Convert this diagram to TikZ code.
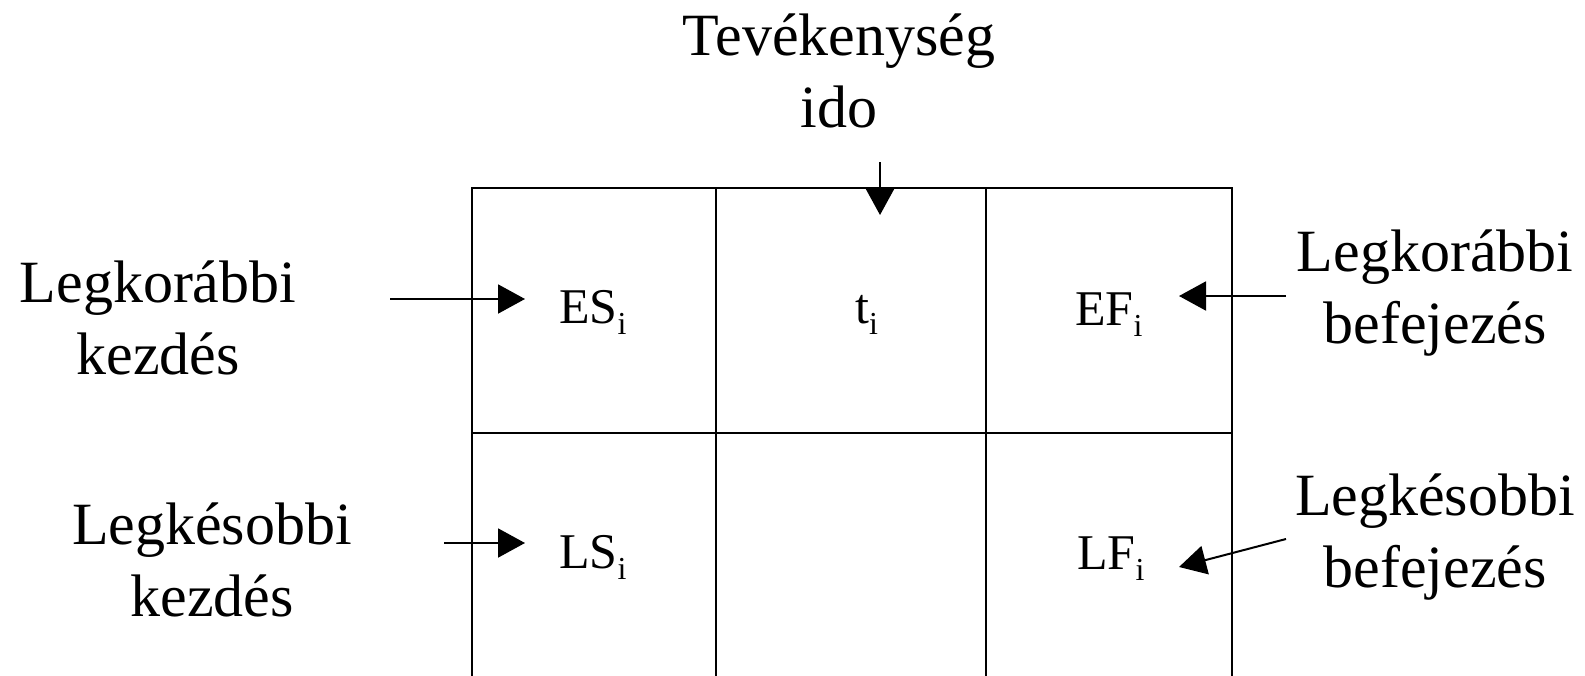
\documentclass[tikz,border=0pt]{standalone}
\usepackage{fontspec}
\setmainfont{Liberation Serif}
\usetikzlibrary{arrows.meta}

% two centred lines; the node's baseline is that of the first line
\newcommand\twoline[2]{\begin{tabular}[t]{@{}c@{}}#1\\#2\end{tabular}}
% box entry with a lowered, smaller index
\newcommand\idx[2]{#1\raisebox{-11pt}{\fontsize{32}{32}\selectfont #2}}

\begin{document}
\begin{tikzpicture}[x=1pt,y=-1pt,
  gridline/.style={line width=2pt,line join=miter},
  arr/.style={line width=2pt,-{Triangle[length=27pt,width=29pt]}},
  caption/.style={anchor=base,inner sep=0pt,font=\fontsize{60}{72}\selectfont},
  entry/.style={anchor=base west,inner sep=0pt,font=\fontsize{50}{60}\selectfont}]
\useasboundingbox (0,0) rectangle (1585,675);

% the activity box: three columns, two rows, open at the bottom
\draw[gridline] (472,680) -- (472,188) -- (1232,188) -- (1232,680);
\draw[gridline] (716,188) -- (716,680);
\draw[gridline] (986,188) -- (986,680);
\draw[gridline] (472,433) -- (1232,433);

% entries of the box
\node[entry] (es) at (559,323) {\idx{ES}{i}};
\node[entry] (t)  at (855,323) {\idx{t}{i}};
\node[entry] (ef) at (1075,325) {\idx{EF}{i}};
\node[entry] (ls) at (559,568) {\idx{LS}{i}};
\node[entry] (lf) at (1077,569) {\idx{LF}{i}};

% explanations around the box
\node[caption] (dur)  at (839,55)   {\twoline{Tevékenység}{ido}};
\node[caption] (estx) at (158,302)  {\twoline{Legkorábbi}{kezdés}};
\node[caption] (lstx) at (212,544)  {\twoline{Legkésobbi}{kezdés}};
\node[caption] (eftx) at (1435,271) {\twoline{Legkorábbi}{befejezés}};
\node[caption] (lftx) at (1435,515) {\twoline{Legkésobbi}{befejezés}};

% arrow ends
\coordinate (durA) at (880,162);  \coordinate (durB) at (880,215);
\coordinate (esA)  at (390,299);  \coordinate (esB)  at (525,299);
\coordinate (lsA)  at (444,543);  \coordinate (lsB)  at (525,543);
\coordinate (efA)  at (1286,296); \coordinate (efB)  at (1179,296);
\coordinate (lfA)  at (1286,539); \coordinate (lfB)  at (1179,567);

\draw[arr] (durA) -- (durB);
\draw[arr] (esA) -- (esB);
\draw[arr] (lsA) -- (lsB);
\draw[arr] (efA) -- (efB);
\draw[arr] (lfA) -- (lfB);
\end{tikzpicture}
\end{document}
